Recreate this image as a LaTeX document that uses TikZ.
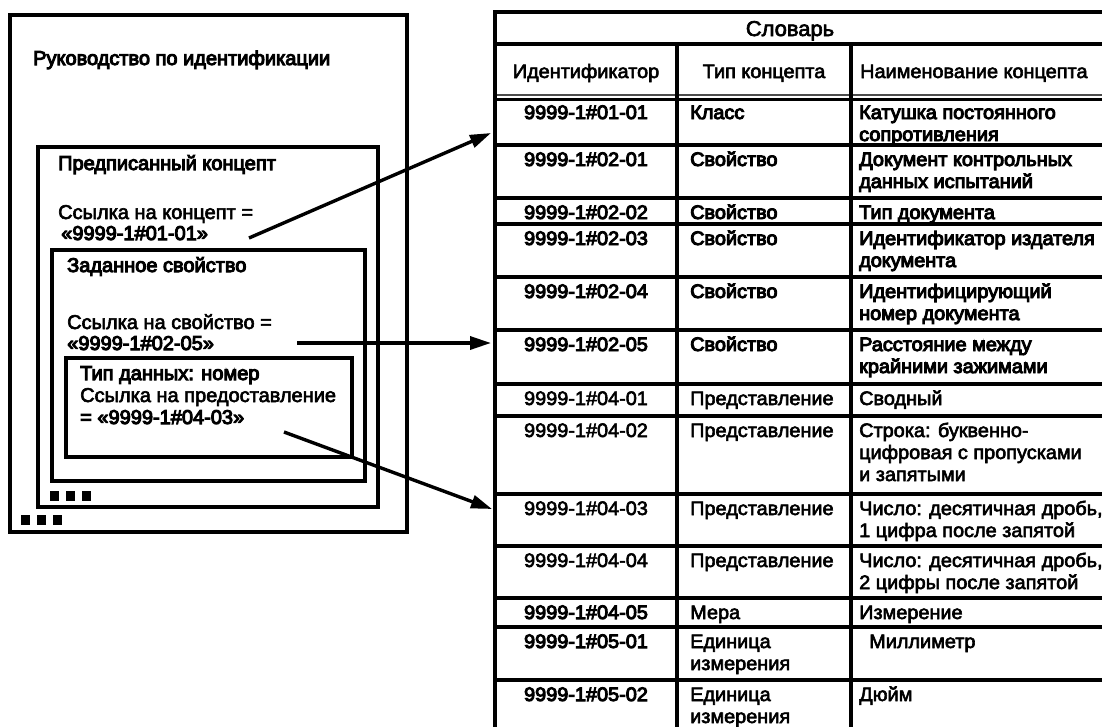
\documentclass[tikz,border=0pt]{standalone}
\usepackage{fontspec}
\setmainfont[FakeBold=3]{Liberation Sans}
\newfontfamily\bk[FakeBold=5]{Liberation Sans}
\newfontfamily\tf[FakeStretch=1.02,FakeBold=3]{Liberation Sans}
\newfontfamily\tbk[FakeStretch=1.02,FakeBold=5]{Liberation Sans}
\usetikzlibrary{arrows.meta}
\newcommand\twol[2]{\vtop{\hbox{#1}\hbox{#2}}}
\newcommand\threel[3]{\vtop{\hbox{#1}\hbox{#2}\hbox{#3}}}
\begin{document}
\begin{tikzpicture}[x=1pt,y=-1pt,
  frame/.style={draw, line width=3.4pt, inner sep=0pt, outer sep=0pt, anchor=north west},
  lt/.style={anchor=base west, inner sep=0pt, font=\fontsize{20}{22}\selectfont},
  tt/.style={anchor=base west, inner sep=0pt, font=\fontsize{19.5}{22}\selectfont\tf},
  tc/.style={anchor=base, inner sep=0pt, font=\fontsize{19.5}{22}\selectfont\tf},
  rule/.style={line width=3.4pt},
  arr/.style={line width=3.4pt, -{Triangle[length=21pt,width=13pt]}},
  sq/.style={fill=black, inner sep=0pt, outer sep=0pt, minimum width=8.5pt, minimum height=9.5pt, anchor=north west}
]
\useasboundingbox (0,0) rectangle (1102,726);

% ---------- left nested boxes ----------
\node[frame, minimum width=397pt, minimum height=517pt] (guide) at (10,15) {};
\node[frame, minimum width=340pt, minimum height=360pt] (pconc) at (38,147) {};
\node[frame, minimum width=313pt, minimum height=231pt] (pprop) at (52,250) {};
\node[frame, minimum width=286pt, minimum height=99pt] (dtype) at (66,358) {};

\node[lt] (g1) at (33,65) {\bk Руководство по идентификации};
\node[lt] (p1) at (58,170) {\bk Предписанный концепт};
\node[lt] (p2) at (58,219) {Ссылка на концепт =};
\node[lt] (p3) at (61,240) {\bk «9999-1\#01-01»};
\node[lt] (s1) at (67,272) {\bk Заданное свойство};
\node[lt] (s2) at (67,329) {Ссылка на свойство =};
\node[lt] (s3) at (67,350) {\bk «9999-1\#02-05»};
\node[lt] (d1) at (80,380) {\bk Тип данных: номер};
\node[lt] (d2) at (80,402) {Ссылка на предоставление};
\node[lt] (d3) at (80,424) {\bk = «9999-1\#04-03»};

\node[sq] (q1) at (50,491) {};
\node[sq] (q2) at (66,491) {};
\node[sq] (q3) at (82,491) {};
\node[sq] (q4) at (21,515) {};
\node[sq] (q5) at (37,515) {};
\node[sq] (q6) at (53,515) {};

% ---------- table ----------
\draw[rule] (495,12) -- (1104,12);
\draw[rule] (495,44) -- (1104,44);
\draw[line width=2pt, black!70] (495,95) -- (1104,95);
\draw[rule] (495,99.5) -- (1104,99.5);
\foreach \yy in {145,198,224,277,330,384,416,494,546,598,627,680}
  \draw[rule] (495,\yy) -- (1104,\yy);
\draw[rule] (495,10.3) -- (495,730);
\draw[rule] (677,44) -- (677,730);
\draw[rule] (851,44) -- (851,730);

\node[anchor=base, inner sep=0pt, font=\fontsize{21.5}{22}\selectfont\tf] (title) at (790,36) {Словарь};
\node[tc] (hid) at (586,78) {Идентификатор};
\node[tc] (htype) at (764,78) {Тип концепта};
\node[tt] (hname) at (860,78) {Наименование концепта};

% row 1
\node[tc] (i1) at (586,119) {\tbk 9999-1\#01-01};
\node[tt] (c1) at (690,119) {\tbk Класс};
\node[tt] (n1) at (859,119) {\tbk\twol{Катушка постоянного}{сопротивления}};
% row 2
\node[tc] (i2) at (586,166) {\tbk 9999-1\#02-01};
\node[tt] (c2) at (690,166) {\tbk Свойство};
\node[tt] (n2) at (859,166) {\tbk\twol{Документ контрольных}{данных испытаний}};
% row 3
\node[tc] (i3) at (586,219) {\tbk 9999-1\#02-02};
\node[tt] (c3) at (690,219) {\tbk Свойство};
\node[tt] (n3) at (859,219) {\tbk Тип документа};
% row 4
\node[tc] (i4) at (586,245) {\tbk 9999-1\#02-03};
\node[tt] (c4) at (690,245) {\tbk Свойство};
\node[tt] (n4) at (859,245) {\tbk\twol{Идентификатор издателя}{документа}};
% row 5
\node[tc] (i5) at (586,298) {\tbk 9999-1\#02-04};
\node[tt] (c5) at (690,298) {\tbk Свойство};
\node[tt] (n5) at (859,298) {\tbk\twol{Идентифицирующий}{номер документа}};
% row 6
\node[tc] (i6) at (586,351) {\tbk 9999-1\#02-05};
\node[tt] (c6) at (690,351) {\tbk Свойство};
\node[tt] (n6) at (859,351) {\tbk\twol{Расстояние между}{крайними зажимами}};
% row 7
\node[tc] (i7) at (586,405) {9999-1\#04-01};
\node[tt] (c7) at (690,405) {Представление};
\node[tt] (n7) at (859,405) {Сводный};
% row 8
\node[tc] (i8) at (586,437) {9999-1\#04-02};
\node[tt] (c8) at (690,437) {Представление};
\node[tt] (n8) at (859,437) {\threel{Строка: буквенно-}{цифровая с пропусками}{и запятыми}};
% row 9
\node[tc] (i9) at (586,515) {9999-1\#04-03};
\node[tt] (c9) at (690,515) {Представление};
\node[tt] (n9) at (859,515) {\twol{Число: десятичная дробь,}{1 цифра после запятой}};
% row 10
\node[tc] (i10) at (586,567) {9999-1\#04-04};
\node[tt] (c10) at (690,567) {Представление};
\node[tt] (n10) at (859,567) {\twol{Число: десятичная дробь,}{2 цифры после запятой}};
% row 11
\node[tc] (i11) at (586,619) {\tbk 9999-1\#04-05};
\node[tt] (c11) at (690,619) {Мера};
\node[tt] (n11) at (859,619) {Измерение};
% row 12
\node[tc] (i12) at (586,648) {\tbk 9999-1\#05-01};
\node[tt] (c12) at (690,648) {\twol{Единица}{измерения}};
\node[tt] (n12) at (869,648) {Миллиметр};
% row 13
\node[tc] (i13) at (586,701) {\tbk 9999-1\#05-02};
\node[tt] (c13) at (690,701) {\twol{Единица}{измерения}};
\node[tt] (n13) at (859,701) {Дюйм};

% ---------- arrows ----------
\coordinate (a1) at (249,238);
\coordinate (b1) at (491,133);
\coordinate (a2) at (297,343);
\coordinate (b2) at (491,343);
\coordinate (a3) at (284,432);
\coordinate (b3) at (492,509);
\draw[arr] (a1) -- (b1);
\draw[arr] (a2) -- (b2);
\draw[arr] (a3) -- (b3);
\end{tikzpicture}
\end{document}
